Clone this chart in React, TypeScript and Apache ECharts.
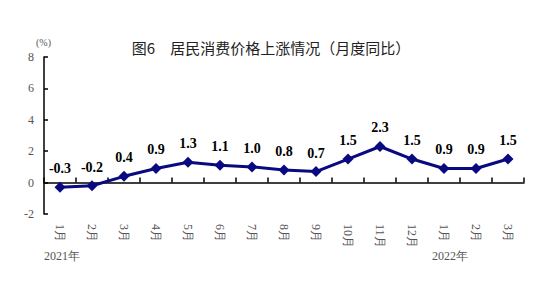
import React, { useEffect, useRef } from "react";
import * as echarts from "echarts";

const categories = ["1月", "2月", "3月", "4月", "5月", "6月", "7月", "8月", "9月", "10月", "11月", "12月", "1月", "2月", "3月"];
const values = [-0.3, -0.2, 0.4, 0.9, 1.3, 1.1, 1.0, 0.8, 0.7, 1.5, 2.3, 1.5, 0.9, 0.9, 1.5];
const yearLabels = ["2021年", "2022年"];
const titleText = "图6　居民消费价格上涨情况（月度同比）";
const unitText = "(%)";

const serif = "serif";

export default function App() {
  const ref = useRef<HTMLDivElement>(null);
  useEffect(() => {
    if (!ref.current) return;
    const chart = echarts.init(ref.current, null, { renderer: "svg" });
    chart.setOption({
      animation: false,
      backgroundColor: "#ffffff",
      title: {
        text: titleText,
        left: 266,
        textAlign: "center",
        top: 35,
        textStyle: { fontFamily: "Noto Sans CJK SC", fontSize: 15, fontWeight: "normal", color: "#222" },
      },
      grid: { left: 44, right: 29, top: 57, bottom: 80, containLabel: false },
      xAxis: {
        type: "category",
        data: categories,
        boundaryGap: true,
        axisLine: { lineStyle: { color: "#000", width: 1.5 } },
        axisTick: { show: true, inside: true, length: 5, lineStyle: { color: "#000", width: 1.5 } },
        axisLabel: { rotate: -90, interval: 0, margin: 10, fontFamily: serif, fontSize: 12, color: "#555" },
      },
      yAxis: {
        type: "value",
        min: -2,
        max: 8,
        interval: 2,
        splitLine: { show: false },
        axisLine: { show: true, lineStyle: { color: "#000", width: 1.5 } },
        axisTick: { show: true, inside: true, length: 4, lineStyle: { color: "#000", width: 1.5 } },
        axisLabel: { fontFamily: serif, fontSize: 12, color: "#555", margin: 10 },
      },
      series: [
        {
          type: "line",
          data: values,
          symbol: "diamond",
          symbolSize: 11,
          lineStyle: { color: "#0a0a80", width: 3 },
          itemStyle: { color: "#0a0a80" },
          label: {
            show: true,
            position: "top",
            distance: 6,
            fontFamily: serif,
            fontWeight: "bold",
            fontSize: 14,
            color: "#000",
            formatter: (p: any) => Number(p.value).toFixed(1),
          },
        },
      ],
      graphic: [
        { type: "text", left: 36, top: 37, style: { text: unitText, fontFamily: serif, fontSize: 10, fill: "#555" } },
        { type: "text", left: 44, top: 250, style: { text: yearLabels[0], fontFamily: serif, fontSize: 12, fill: "#555" } },
        { type: "text", left: 432, top: 250, style: { text: yearLabels[1], fontFamily: serif, fontSize: 12, fill: "#555" } },
      ],
    });
    return () => chart.dispose();
  }, []);
  return <div ref={ref} style={{ position: "absolute", left: 0, top: 0, width: 553, height: 294 }} />;
}
